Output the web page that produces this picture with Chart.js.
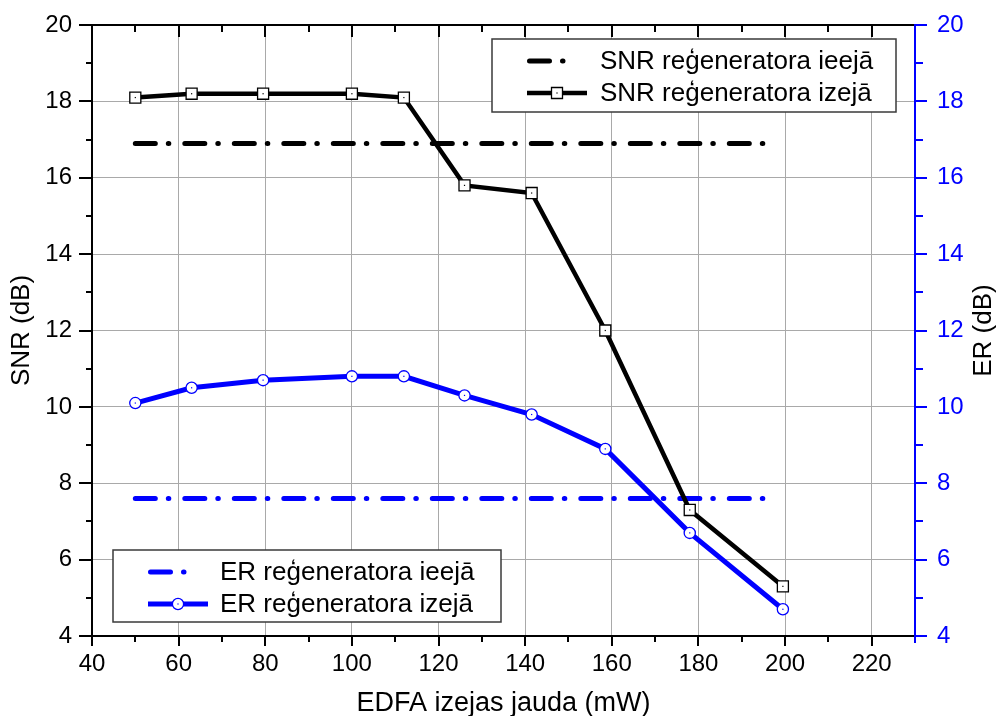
<!DOCTYPE html>
<html>
<head>
<meta charset="utf-8">
<script src="https://cdn.jsdelivr.net/npm/chart.js@4.4.1/dist/chart.umd.min.js"></script>
<style>
html,body{margin:0;padding:0;background:#ffffff;}
#c{display:block;}
</style>
</head>
<body>
<canvas id="c" width="996" height="716"></canvas>
<script>
// ---------- data ----------
const powerMW   = [50, 63, 79.5, 100, 112, 126, 141.5, 158.5, 178, 199.5];
const snrOutput = [18.1, 18.2, 18.2, 18.2, 18.1, 15.8, 15.6, 12.0, 7.3, 5.3];
const erOutput  = [10.1, 10.5, 10.7, 10.8, 10.8, 10.3, 9.8, 8.9, 6.7, 4.7];
const inputSpanMW = [50, 195];
const snrInput  = [16.9, 16.9];
const erInput   = [7.6, 7.6];
const xTickValues = [40, 60, 80, 100, 120, 140, 160, 180, 200, 220];
const yTickValues = [4, 6, 8, 10, 12, 14, 16, 18, 20];
const labels = {
  snrIn: 'SNR reģeneratora ieejā',
  snrOut: 'SNR reģeneratora izejā',
  erIn: 'ER reģeneratora ieejā',
  erOut: 'ER reģeneratora izejā',
  xTitle: 'EDFA izejas jauda (mW)',
  yLeftTitle: 'SNR (dB)',
  yRightTitle: 'ER (dB)'
};

// ---------- style ----------
const FONT = "'Liberation Sans', Arial, sans-serif";
const BLUE = '#0000ff';
const BLACK = '#000000';
const GRID = '#a9a9a9';
const DASHDOT = [20, 13, 0.5, 16];

function pts(xs, ys) { return xs.map((x, i) => ({ x: x, y: ys[i] })); }

function drawMarker(ctx, style, x, y, color) {
  ctx.save();
  ctx.setLineDash([]);
  ctx.fillStyle = '#ffffff';
  ctx.strokeStyle = color;
  ctx.lineWidth = 1.3;
  ctx.beginPath();
  if (style === 'rect') {
    ctx.rect(x - 5.5, y - 5.5, 11, 11);
  } else {
    ctx.arc(x, y, 5.6, 0, Math.PI * 2);
  }
  ctx.fill();
  ctx.stroke();
  ctx.fillStyle = color;
  ctx.fillRect(x - 0.6, y - 0.6, 1.2, 1.2);
  ctx.restore();
}

function drawLegend(ctx, box, items) {
  ctx.save();
  ctx.fillStyle = '#ffffff';
  ctx.fillRect(box.x, box.y, box.w, box.h);
  ctx.strokeStyle = '#3a3a3a';
  ctx.lineWidth = 1.5;
  ctx.strokeRect(box.x, box.y, box.w, box.h);
  items.forEach(it => {
    const y = box.y + it.dy;
    const sx = box.x + box.sampleX;
    ctx.strokeStyle = it.color;
    if (it.kind === 'dashdot') {
      ctx.lineWidth = 5;
      ctx.lineCap = 'round';
      ctx.setLineDash(DASHDOT);
      ctx.beginPath();
      ctx.moveTo(sx + 2.5, y);
      ctx.lineTo(sx + 36, y);
      ctx.stroke();
      ctx.setLineDash([]);
    } else {
      ctx.lineWidth = it.lw;
      ctx.lineCap = 'butt';
      ctx.setLineDash([]);
      ctx.beginPath();
      ctx.moveTo(sx, y);
      ctx.lineTo(sx + 60, y);
      ctx.stroke();
      drawMarker(ctx, it.marker, sx + 30, y, it.color);
    }
    ctx.fillStyle = '#000000';
    ctx.font = '26px ' + FONT;
    ctx.textAlign = 'left';
    ctx.textBaseline = 'middle';
    ctx.fillText(it.text, box.x + box.textX, y + 1);
  });
  ctx.restore();
}

const extras = {
  id: 'extras',
  afterDatasetsDraw(chart) {
    const ctx = chart.ctx;
    [2, 3].forEach(i => {
      const meta = chart.getDatasetMeta(i);
      const col = chart.data.datasets[i].borderColor;
      meta.data.forEach(p => {
        ctx.save();
        ctx.fillStyle = col;
        ctx.fillRect(p.x - 0.6, p.y - 0.6, 1.2, 1.2);
        ctx.restore();
      });
    });
    drawLegend(ctx, { x: 492, y: 39, w: 404, h: 73, sampleX: 35, textX: 108 }, [
      { kind: 'dashdot', color: BLACK, text: labels.snrIn, dy: 22 },
      { kind: 'line', marker: 'rect', lw: 4.5, color: BLACK, text: labels.snrOut, dy: 54 }
    ]);
    drawLegend(ctx, { x: 113, y: 550, w: 388, h: 72, sampleX: 35, textX: 107 }, [
      { kind: 'dashdot', color: BLUE, text: labels.erIn, dy: 22 },
      { kind: 'line', marker: 'circle', lw: 5, color: BLUE, text: labels.erOut, dy: 54 }
    ]);
  },
  afterDraw(chart) {
    const ctx = chart.ctx;
    const a = chart.chartArea;
    const xs = chart.scales.x, yl = chart.scales.ySNR, yr = chart.scales.yER;
    ctx.save();
    ctx.strokeStyle = BLACK;
    ctx.lineWidth = 2;
    ctx.beginPath();
    ctx.moveTo(a.left - 1, a.top);
    ctx.lineTo(a.right, a.top);
    ctx.stroke();
    for (let v = 40; v <= 220; v += 10) {
      const px = Math.round(xs.getPixelForValue(v));
      const major = v % 20 === 0;
      ctx.beginPath();
      ctx.moveTo(px, a.bottom);
      ctx.lineTo(px, a.bottom + (major ? 10 : 6));
      ctx.moveTo(px, a.top);
      ctx.lineTo(px, a.top + (major ? 12 : 7));
      ctx.stroke();
    }
    for (let v = 4; v <= 20; v += 1) {
      const py = Math.round(yl.getPixelForValue(v));
      const major = v % 2 === 0;
      ctx.beginPath();
      ctx.moveTo(a.left, py);
      ctx.lineTo(a.left - (major ? 13 : 6), py);
      ctx.stroke();
    }
    ctx.strokeStyle = BLUE;
    for (let v = 4; v <= 20; v += 1) {
      const py = Math.round(yr.getPixelForValue(v));
      const major = v % 2 === 0;
      ctx.beginPath();
      ctx.moveTo(a.right, py);
      ctx.lineTo(a.right + (major ? 12 : 8), py);
      ctx.stroke();
    }
    ctx.beginPath();
    ctx.moveTo(a.right, a.top - 1);
    ctx.lineTo(a.right, a.bottom + 7);
    ctx.stroke();
    ctx.fillStyle = BLACK;
    ctx.font = '26px ' + FONT;
    ctx.textAlign = 'center';
    ctx.textBaseline = 'middle';
    ctx.translate(984, (a.top + a.bottom) / 2);
    ctx.rotate(-Math.PI / 2);
    ctx.fillText(labels.yRightTitle, 0, 0);
    ctx.restore();
  }
};

function fixY(width) {
  return s => { s.width = width; s.paddingTop = 0; s.paddingBottom = 0; };
}

const chart = new Chart(document.getElementById('c'), {
  type: 'line',
  data: {
    datasets: [
      {
        label: labels.snrIn,
        data: pts(inputSpanMW, snrInput),
        yAxisID: 'ySNR',
        borderColor: BLACK,
        borderWidth: 5,
        borderDash: DASHDOT,
        borderCapStyle: 'round',
        pointRadius: 0,
        order: 3
      },
      {
        label: labels.erIn,
        data: pts(inputSpanMW, erInput),
        yAxisID: 'yER',
        borderColor: BLUE,
        borderWidth: 5,
        borderDash: DASHDOT,
        borderCapStyle: 'round',
        pointRadius: 0,
        order: 4
      },
      {
        label: labels.snrOut,
        data: pts(powerMW, snrOutput),
        yAxisID: 'ySNR',
        borderColor: BLACK,
        borderWidth: 4.5,
        pointStyle: 'rect',
        pointRadius: 7.8,
        pointBorderWidth: 1.3,
        pointBackgroundColor: '#ffffff',
        pointBorderColor: BLACK,
        order: 1
      },
      {
        label: labels.erOut,
        data: pts(powerMW, erOutput),
        yAxisID: 'yER',
        borderColor: BLUE,
        borderWidth: 5,
        pointStyle: 'circle',
        pointRadius: 5.6,
        pointBorderWidth: 1.3,
        pointBackgroundColor: '#ffffff',
        pointBorderColor: BLUE,
        order: 2
      }
    ]
  },
  options: {
    responsive: false,
    animation: false,
    devicePixelRatio: 1,
    layout: { padding: { top: 25, left: 0, right: 0, bottom: 0 } },
    elements: { line: { tension: 0 } },
    plugins: { legend: { display: false }, tooltip: { enabled: false }, title: { display: false } },
    scales: {
      x: {
        type: 'linear',
        position: 'bottom',
        min: 40,
        max: 230,
        afterBuildTicks: s => { s.ticks = xTickValues.map(v => ({ value: v })); },
        afterFit: s => { s.height = 80; s.paddingLeft = 0; s.paddingRight = 0; },
        grid: { color: GRID, lineWidth: 1, drawTicks: false },
        border: { color: BLACK, width: 2 },
        ticks: { padding: 14, color: BLACK, font: { family: FONT, size: 24 }, maxRotation: 0, autoSkip: false },
        title: { display: true, text: labels.xTitle, color: BLACK, font: { family: FONT, size: 27, lineHeight: 1 }, padding: { top: 0, bottom: -1 } }
      },
      ySNR: {
        type: 'linear',
        position: 'left',
        min: 4,
        max: 20,
        afterBuildTicks: s => { s.ticks = yTickValues.map(v => ({ value: v })); },
        afterFit: fixY(92),
        grid: { color: GRID, lineWidth: 1, drawTicks: false },
        border: { color: BLACK, width: 2 },
        ticks: { padding: 20, color: BLACK, font: { family: FONT, size: 24 } },
        title: { display: true, text: labels.yLeftTitle, color: BLACK, font: { family: FONT, size: 26, lineHeight: 1 }, padding: { top: 9, bottom: 0 } }
      },
      yER: {
        type: 'linear',
        position: 'right',
        min: 4,
        max: 20,
        afterBuildTicks: s => { s.ticks = yTickValues.map(v => ({ value: v })); },
        afterFit: fixY(81),
        grid: { display: false, drawTicks: false },
        border: { color: BLUE, width: 2 },
        ticks: { padding: 22, color: BLUE, font: { family: FONT, size: 24 } },
        title: { display: false }
      }
    }
  },
  plugins: [extras]
});
</script>
</body>
</html>
